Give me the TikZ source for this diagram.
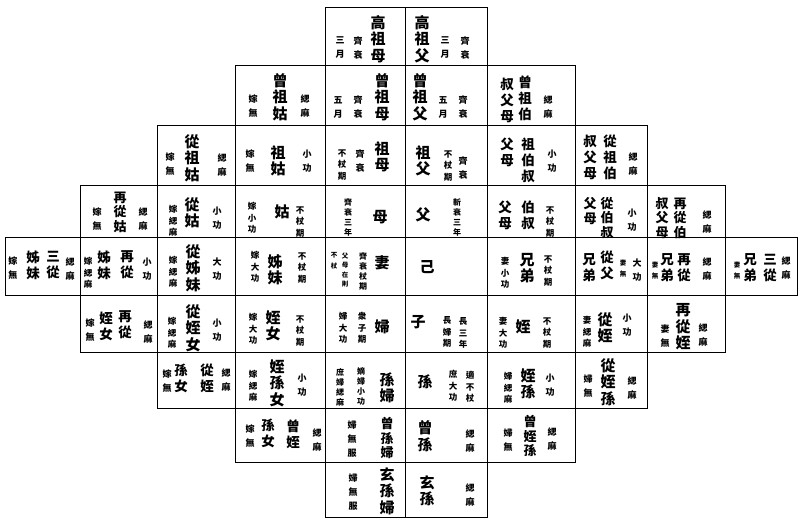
\documentclass[tikz,border=0pt]{standalone}
\usepackage{fontspec}
\newfontfamily\cjk{Noto Sans CJK TC}
\newcounter{tn}
\newcommand\Tx[4][bg]{\stepcounter{tn}\node[#1] (n\number\value{tn}) at (#2,#3) {#4};}
\tikzset{
  txt/.style={inner sep=0pt, align=center, text=black},
  bg/.style={txt, font=\cjk\bfseries\fontsize{15}{16.5}\selectfont},
  bgs/.style={txt, font=\cjk\bfseries\fontsize{13.5}{16}\selectfont},
  bgt/.style={txt, font=\cjk\bfseries\fontsize{13}{14.5}\selectfont},
  sm/.style={txt, font=\cjk\bfseries\fontsize{9}{14}\selectfont},
  sm3/.style={txt, font=\cjk\bfseries\fontsize{8.5}{11.5}\selectfont},
  sm4/.style={txt, font=\cjk\bfseries\fontsize{8}{10}\selectfont},
  tn/.style={txt, font=\cjk\bfseries\fontsize{6.5}{11}\selectfont},
  tn4/.style={txt, font=\cjk\bfseries\fontsize{6.5}{9.5}\selectfont},
  cell/.style={draw=black, line width=0.9pt}
}
\begin{document}
\begin{tikzpicture}[x=1pt,y=-1pt]
\fill[white] (0,0) rectangle (800,523);
\useasboundingbox (0,0) rectangle (800,523);
% grid
\foreach \a/\b in {325/405,405/487} \draw[cell] (\a,7) rectangle (\b,65);
\foreach \a/\b in {235/325,325/405,405/487,487/575} \draw[cell] (\a,65) rectangle (\b,125);
\foreach \a/\b in {157/235,235/325,325/405,405/487,487/575,575/647} \draw[cell] (\a,125) rectangle (\b,185);
\foreach \a/\b in {80/157,157/235,235/325,325/405,405/487,487/575,575/647,647/725} \draw[cell] (\a,185) rectangle (\b,237);
\foreach \a/\b in {5/80,80/157,157/235,235/325,325/405,405/487,487/575,575/647,647/725,725/797} \draw[cell] (\a,237) rectangle (\b,295);
\foreach \a/\b in {80/157,157/235,235/325,325/405,405/487,487/575,575/647,647/725} \draw[cell] (\a,295) rectangle (\b,352);
\foreach \a/\b in {157/235,235/325,325/405,405/487,487/575,575/647} \draw[cell] (\a,352) rectangle (\b,408);
\foreach \a/\b in {235/325,325/405,405/487,487/575} \draw[cell] (\a,408) rectangle (\b,462);
\foreach \a/\b in {325/405,405/487} \draw[cell] (\a,462) rectangle (\b,517);
% row 1
\Tx{378}{39}{高\\祖\\母}
\Tx[sm]{358}{48}{齊\\衰}
\Tx[sm]{340}{48}{三\\月}
\Tx{422}{39}{高\\祖\\父}
\Tx[sm]{445}{48}{三\\月}
\Tx[sm]{465}{48}{齊\\衰}
% row 2
\Tx{280}{97}{曾\\祖\\姑}
\Tx[sm]{253}{106}{嫁\\無}
\Tx[sm]{305}{106}{緦\\麻}
\Tx{382}{97}{曾\\祖\\母}
\Tx[sm]{358}{107}{齊\\衰}
\Tx[sm]{338}{107}{五\\月}
\Tx{420}{97}{曾\\祖\\父}
\Tx[sm]{443}{107}{五\\月}
\Tx[sm]{463}{107}{齊\\衰}
\Tx[bgs]{525}{98}{曾\\祖\\伯}
\Tx[bgs]{507}{100}{叔\\父\\母}
\Tx[sm]{548}{107}{緦\\麻}
% row 3
\Tx{192}{158}{從\\祖\\姑}
\Tx[sm]{170}{164}{嫁\\無}
\Tx[sm]{222}{165}{緦\\麻}
\Tx{278}{161}{祖\\姑}
\Tx[sm]{250}{161}{嫁\\無}
\Tx[sm]{307}{161}{小\\功}
\Tx{382}{157}{祖\\母}
\Tx[sm]{360}{161}{齊\\衰}
\Tx[sm3]{342}{165}{不\\杖\\期}
\Tx{423}{161}{祖\\父}
\Tx[sm3]{448}{166}{不\\杖\\期}
\Tx[sm]{463}{168}{齊\\衰}
\Tx[bgs]{528}{160}{祖\\伯\\叔}
\Tx[bgs]{507}{152}{父\\母}
\Tx[sm]{552}{161}{小\\功}
\Tx[bgs]{610}{157}{從\\祖\\伯}
\Tx[bgs]{590}{157}{叔\\父\\母}
\Tx[sm]{633}{164}{緦\\麻}
% row 4
\Tx[bgt]{120}{212}{再\\從\\姑}
\Tx[sm]{97}{219}{嫁\\無}
\Tx[sm]{143}{219}{緦\\麻}
\Tx{192}{213}{從\\姑}
\Tx[sm3]{173}{221}{嫁\\緦\\麻}
\Tx[sm]{217}{218}{小\\功}
\Tx{282}{212}{姑}
\Tx[sm3]{252}{218}{嫁\\小\\功}
\Tx[sm3]{300}{222}{不\\杖\\期}
\Tx{380}{217}{母}
\Tx[sm4]{348}{217}{齊\\衰\\三\\年}
\Tx{423}{215}{父}
\Tx[sm4]{457}{217}{斬\\衰\\三\\年}
\Tx[bgs]{528}{215}{伯\\叔}
\Tx[bgs]{505}{215}{父\\母}
\Tx[sm3]{550}{222}{不\\杖\\期}
\Tx[bgt]{607}{218}{從\\伯\\叔}
\Tx[bgt]{590}{211}{父\\母}
\Tx[sm]{632}{220}{小\\功}
\Tx[bgt]{680}{218}{再\\從\\伯}
\Tx[bgt]{662}{218}{叔\\父\\母}
\Tx[sm]{707}{222}{緦\\麻}
% row 5
\Tx[bgs]{53}{265}{三\\從}
\Tx[bgs]{33}{265}{姊\\妹}
\Tx[sm]{13}{268}{嫁\\無}
\Tx[sm]{70}{269}{緦\\麻}
\Tx[bgs]{127}{265}{再\\從}
\Tx[bgs]{104}{265}{姊\\妹}
\Tx[sm3]{88}{273}{嫁\\緦\\麻}
\Tx[sm]{147}{269}{小\\功}
\Tx{193}{268}{從\\姊\\妹}
\Tx[sm3]{173}{272}{嫁\\緦\\麻}
\Tx[sm]{217}{269}{大\\功}
\Tx{275}{270}{姊\\妹}
\Tx[sm3]{255}{267}{嫁\\大\\功}
\Tx[sm3]{302}{268}{不\\杖\\期}
\Tx{382}{263}{妻}
\Tx[sm4]{363}{271}{齊\\衰\\杖\\期}
\Tx[tn4]{345}{270}{父\\母\\在\\則}
\Tx[tn]{334}{261}{不\\杖}
\Tx{427}{267}{己}
\Tx{527}{268}{兄\\弟}
\Tx[sm3]{548}{271}{不\\杖\\期}
\Tx[sm3]{505}{273}{妻\\小\\功}
\Tx[bgs]{607}{265}{從\\父}
\Tx[bgs]{589}{268}{兄\\弟}
\Tx[tn]{623}{269}{妻\\無}
\Tx[sm]{637}{270}{大\\功}
\Tx[bgs]{684}{268}{再\\從}
\Tx[bgs]{667}{268}{兄\\弟}
\Tx[tn]{655}{271}{妻\\無}
\Tx[sm]{707}{269}{緦\\麻}
\Tx[bgs]{770}{268}{三\\從}
\Tx[bgs]{750}{268}{兄\\弟}
\Tx[tn]{737}{271}{妻\\無}
\Tx[sm]{786}{268}{緦\\麻}
% row 6
\Tx[bgs]{125}{325}{再\\從}
\Tx[bgs]{106}{326}{姪\\女}
\Tx[sm]{90}{330}{嫁\\無}
\Tx[sm]{148}{332}{緦\\麻}
\Tx{193}{328}{從\\姪\\女}
\Tx[sm3]{172}{333}{嫁\\緦\\麻}
\Tx[sm]{217}{330}{小\\功}
\Tx{273}{326}{姪\\女}
\Tx[sm3]{253}{329}{嫁\\大\\功}
\Tx[sm3]{300}{331}{不\\杖\\期}
\Tx{382}{327}{婦}
\Tx[sm3]{362}{328}{衆\\子\\期}
\Tx[sm3]{343}{328}{婦\\大\\功}
\Tx{418}{322}{子}
\Tx[sm3]{463}{333}{長\\三\\年}
\Tx[sm3]{447}{332}{長\\婦\\期}
\Tx{523}{327}{姪}
\Tx[sm3]{547}{333}{不\\杖\\期}
\Tx[sm3]{503}{333}{妻\\大\\功}
\Tx{605}{328}{從\\姪}
\Tx[sm3]{587}{332}{妻\\緦\\麻}
\Tx[sm]{627}{325}{小\\功}
\Tx{683}{327}{再\\從\\姪}
\Tx[sm]{665}{336}{妻\\無}
\Tx[sm]{703}{335}{緦\\麻}
% row 7
\Tx[bgs]{207}{378}{從\\姪}
\Tx[bgs]{181}{378}{孫\\女}
\Tx[sm]{167}{381}{嫁\\無}
\Tx[sm]{226}{380}{緦\\麻}
\Tx{277}{383}{姪\\孫\\女}
\Tx[sm3]{253}{386}{嫁\\緦\\麻}
\Tx[sm]{302}{385}{小\\功}
\Tx{387}{388}{孫\\婦}
\Tx[sm4]{361}{386}{嫡\\婦\\小\\功}
\Tx[sm4]{340}{387}{庶\\婦\\緦\\麻}
\Tx{425}{382}{孫}
\Tx[sm3]{470}{387}{適\\不\\杖}
\Tx[sm3]{453}{386}{庶\\大\\功}
\Tx{528}{384}{姪\\孫}
\Tx[sm3]{508}{388}{婦\\緦\\麻}
\Tx[sm]{550}{385}{小\\功}
\Tx{608}{382}{從\\姪\\孫}
\Tx[sm]{588}{386}{婦\\無}
\Tx[sm]{632}{388}{緦\\麻}
% row 8
\Tx[bgs]{293}{434}{曾\\姪}
\Tx[bgs]{268}{433}{孫\\女}
\Tx[sm]{250}{436}{嫁\\無}
\Tx[sm]{317}{440}{緦\\麻}
\Tx[bgt]{387}{438}{曾\\孫\\婦}
\Tx[sm]{352}{439}{婦\\無\\服}
\Tx{425}{436}{曾\\孫}
\Tx[sm]{470}{441}{緦\\麻}
\Tx[bgt]{530}{436}{曾\\姪\\孫}
\Tx[sm]{508}{440}{婦\\無}
\Tx[sm]{552}{439}{緦\\麻}
% row 9
\Tx{387}{491}{玄\\孫\\婦}
\Tx[sm]{353}{492}{婦\\無\\服}
\Tx{427}{491}{玄\\孫}
\Tx[sm]{470}{495}{緦\\麻}
\end{tikzpicture}
\end{document}
